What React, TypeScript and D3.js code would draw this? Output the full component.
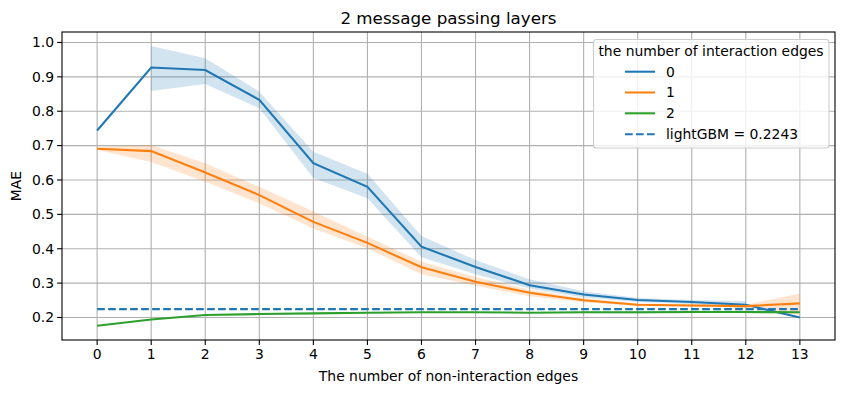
import React from "react";
import * as d3 from "d3";

const xs = [0, 1, 2, 3, 4, 5, 6, 7, 8, 9, 10, 11, 12, 13];
const xTicks = xs;
const yTicks = [0.2, 0.3, 0.4, 0.5, 0.6, 0.7, 0.8, 0.9, 1.0];

const s0 = [0.744, 0.927, 0.92, 0.833, 0.649, 0.58, 0.406, 0.347, 0.294, 0.267, 0.251, 0.245, 0.237, 0.2];
const s0Lo = [null, 0.859, 0.879, 0.809, 0.606, 0.547, 0.375, 0.326, 0.284, 0.258, 0.245, 0.239, 0.226, null];
const s0Hi = [null, 0.99, 0.954, 0.857, 0.682, 0.618, 0.437, 0.367, 0.311, 0.276, 0.257, 0.251, 0.248, null];

const s1 = [0.691, 0.684, 0.622, 0.556, 0.478, 0.417, 0.346, 0.304, 0.272, 0.25, 0.237, 0.235, 0.233, 0.241];
const s1Lo = [0.687, 0.652, 0.595, 0.532, 0.459, 0.401, 0.326, 0.292, 0.262, 0.244, 0.233, 0.231, 0.229, 0.207];
const s1Hi = [0.695, 0.702, 0.649, 0.58, 0.508, 0.435, 0.362, 0.318, 0.281, 0.256, 0.241, 0.239, 0.237, 0.27];

const s2 = [0.176, 0.194, 0.207, 0.21, 0.212, 0.214, 0.215, 0.215, 0.214, 0.215, 0.215, 0.216, 0.216, 0.215];
const s2Lo = [0.176, 0.193, 0.206, 0.209, 0.211, 0.213, 0.214, 0.214, 0.213, 0.212, 0.211, 0.212, 0.212, 0.214];
const s2Hi = [0.176, 0.195, 0.208, 0.211, 0.213, 0.215, 0.216, 0.216, 0.215, 0.218, 0.219, 0.22, 0.22, 0.216];

const lightGBM = 0.2243;
const seriesNames = ["0", "1", "2"];
const colors = ["#1f77b4", "#ff7f0e", "#2ca02c"];

const W = 846, H = 393;
const left = 62, right = 835, top = 32, bottom = 340;
const FONT = "DejaVu Sans, sans-serif";

export default function App() {
  const x = d3.scaleLinear().domain([-0.65, 13.65]).range([left, right]);
  const y = d3.scaleLinear().domain([0.1345, 1.0305]).range([bottom, top]);

  const series = [
    { v: s0, lo: s0Lo, hi: s0Hi },
    { v: s1, lo: s1Lo, hi: s1Hi },
    { v: s2, lo: s2Lo, hi: s2Hi },
  ];

  const line = d3
    .line<number>()
    .x((_, i) => x(xs[i]))
    .y((d) => y(d));

  const area = (lo: (number | null)[], hi: (number | null)[]) =>
    d3
      .area<number>()
      .defined((_, i) => lo[i] != null && hi[i] != null)
      .x((_, i) => x(xs[i]))
      .y0((_, i) => y(lo[i] as number))
      .y1((_, i) => y(hi[i] as number))(xs as any);

  const lw = 2.08;

  return (
    <svg width={W} height={H} style={{ position: "absolute", left: 0, top: 0 }} fontFamily={FONT}>
      <rect x={0} y={0} width={W} height={H} fill="white" />
      <defs>
        <clipPath id="plot">
          <rect x={left} y={top} width={right - left} height={bottom - top} />
        </clipPath>
      </defs>
      {xTicks.map((t) => (
        <line key={"gx" + t} x1={x(t)} x2={x(t)} y1={top} y2={bottom} stroke="#b0b0b0" strokeWidth={1.1} />
      ))}
      {yTicks.map((t) => (
        <line key={"gy" + t} x1={left} x2={right} y1={y(t)} y2={y(t)} stroke="#b0b0b0" strokeWidth={1.1} />
      ))}
      <g clipPath="url(#plot)">
        {series.map((s, k) => (
          <path key={"a" + k} d={area(s.lo, s.hi) || ""} fill={colors[k]} fillOpacity={0.2} stroke="none" />
        ))}
        {series.map((s, k) => (
          <path key={"l" + k} d={line(s.v) || ""} fill="none" stroke={colors[k]} strokeWidth={lw} />
        ))}
        <line
          x1={x(xs[0])}
          x2={x(xs[xs.length - 1])}
          y1={y(lightGBM)}
          y2={y(lightGBM)}
          stroke={colors[0]}
          strokeWidth={lw}
          strokeDasharray="7.7,3.3"
        />
      </g>
      <rect x={left} y={top} width={right - left} height={bottom - top} fill="none" stroke="black" strokeWidth={1.1} />
      {xTicks.map((t) => (
        <g key={"xt" + t}>
          <line x1={x(t)} x2={x(t)} y1={bottom} y2={bottom + 4.9} stroke="black" strokeWidth={1.1} />
          <text x={x(t)} y={bottom + 19} textAnchor="middle" fontSize={13.9} fill="black">
            {t}
          </text>
        </g>
      ))}
      {yTicks.map((t) => (
        <g key={"yt" + t}>
          <line x1={left - 4.9} x2={left} y1={y(t)} y2={y(t)} stroke="black" strokeWidth={1.1} />
          <text x={left - 8} y={y(t)} dy="0.35em" textAnchor="end" fontSize={13.9} fill="black">
            {t.toFixed(1)}
          </text>
        </g>
      ))}
      <text x={(left + right) / 2} y={381} textAnchor="middle" fontSize={13.9}>
        The number of non-interaction edges
      </text>
      <text transform={`translate(21,${(top + bottom) / 2}) rotate(-90)`} textAnchor="middle" fontSize={13.9}>
        MAE
      </text>
      <text x={(left + right) / 2} y={24} textAnchor="middle" fontSize={16.7}>
        2 message passing layers
      </text>
      <g>
        <rect x={593.5} y={39.5} width={235.5} height={108.5} rx={3} fill="white" fillOpacity={0.8} stroke="#cccccc" strokeWidth={1.1} />
        <text x={711} y={56} textAnchor="middle" fontSize={13.9}>
          the number of interaction edges
        </text>
        {seriesNames.map((n, k) => {
          const yy = 71.7 + k * 20.8;
          return (
            <g key={"lg" + k}>
              <line x1={625} x2={655} y1={yy} y2={yy} stroke={colors[k]} strokeWidth={lw} />
              <text x={666} y={yy} dy="0.35em" fontSize={13.9}>
                {n}
              </text>
            </g>
          );
        })}
        <line x1={625} x2={655} y1={134.3} y2={134.3} stroke={colors[0]} strokeWidth={lw} strokeDasharray="7.7,3.3" />
        <text x={666} y={134.3} dy="0.35em" fontSize={13.9}>
          {`lightGBM = ${lightGBM}`}
        </text>
      </g>
    </svg>
  );
}
